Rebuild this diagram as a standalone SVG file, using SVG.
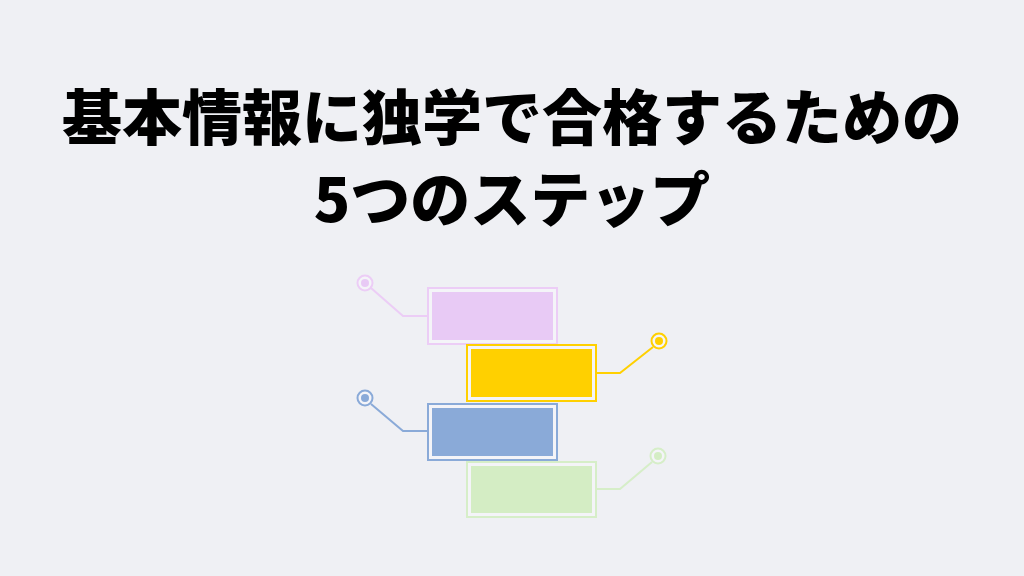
<svg xmlns="http://www.w3.org/2000/svg" width="1024" height="576" viewBox="0 0 1024 576">
<style>
.title{font-family:"Noto Sans CJK JP","Noto Sans CJK SC",sans-serif;font-weight:900;font-size:60px;fill:#000;text-anchor:middle}
.frame{fill:#f4f4f8;stroke-width:2}
.conn{fill:none;stroke-width:2}
.ring{fill:#f4f4f8;stroke-width:2}
.pink{stroke:#eccdf6}
.yellow{stroke:#ffd000}
.blue{stroke:#8aaad8}
.green{stroke:#d6eec8}
</style>
<rect width="1024" height="576" fill="#eff0f4"/>
<g id="title">
<text class="title" x="512" y="140">基本情報に独学で合格するための</text>
<text class="title" x="512" y="222">5つのステップ</text>
</g>
<g id="connectors">
<polyline class="conn pink" points="371,288 403,316 428,316"/>
<polyline class="conn yellow" points="653,347 620,373 597,373"/>
<polyline class="conn blue" points="371,404 403,431 428,431"/>
<polyline class="conn green" points="652,462 620,489 597,489"/>
</g>
<g id="step1">
<rect class="frame pink" x="428" y="288" width="129" height="56"/>
<rect x="432" y="292" width="121" height="48" fill="#e8caf5"/>
<circle class="ring pink" cx="365" cy="283" r="7.5"/>
<circle cx="365" cy="283" r="4" fill="#e8caf5"/>
</g>
<g id="step2">
<rect class="frame yellow" x="467" y="345" width="129" height="56"/>
<rect x="471" y="349" width="121" height="48" fill="#ffd000"/>
<circle class="ring yellow" cx="659" cy="341" r="7.5"/>
<circle cx="659" cy="341" r="4" fill="#ffd000"/>
</g>
<g id="step3">
<rect class="frame blue" x="428" y="404" width="129" height="56"/>
<rect x="432" y="408" width="121" height="48" fill="#8aaad8"/>
<circle class="ring blue" cx="365" cy="398" r="7.5"/>
<circle cx="365" cy="398" r="4" fill="#8aaad8"/>
</g>
<g id="step4">
<rect class="frame green" x="467" y="462" width="129" height="55"/>
<rect x="471" y="466" width="121" height="47" fill="#d4edc4"/>
<circle class="ring green" cx="658" cy="456" r="7.5"/>
<circle cx="658" cy="456" r="4" fill="#d4edc4"/>
</g>
</svg>
